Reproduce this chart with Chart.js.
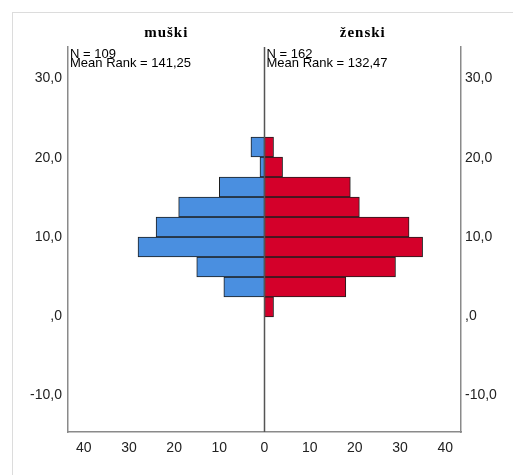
<!DOCTYPE html>
<html lang="hr">
  <head>
    <meta charset="UTF-8" />
    <title>muški / ženski</title>
    <script src="https://cdn.jsdelivr.net/npm/chart.js"></script>
    <style>
      html, body { margin: 0; padding: 0; background: #fff; overflow: hidden; }
      #wrap { position: relative; width: 513px; height: 475px; }
      #frame {
        position: absolute; left: 12px; top: 12px;
        width: 600px; height: 600px;
        border: 1px solid #dcdcdc;
      }
      #chart { position: absolute; left: 0; top: 0; }
    </style>
  </head>
  <body>
    <div id="wrap">
      <div id="frame"></div>
      <canvas id="chart" width="513" height="475"></canvas>
    </div>

    <script>
      // bin centres (y value), bottom to top
      const binCenters = [1.15, 3.67, 6.2, 8.72, 11.25, 13.77, 16.3, 18.82, 21.35];
      const maleCounts = [0, 9, 15, 28, 24, 19, 10, 1, 3];
      const femaleCounts = [2, 18, 29, 35, 32, 21, 19, 4, 2];

      const groupLabels = ["muški", "ženski"];
      const groupNotes = [
        ["N = 109", "Mean Rank = 141,25"],
        ["N = 162", "Mean Rank = 132,47"],
      ];

      const yTicks = [-10, 0, 10, 20, 30];
      const xTicks = [-40, -30, -20, -10, 0, 10, 20, 30, 40];

      const fmtY = (v) => (v === 0 ? ",0" : v.toFixed(1).replace(".", ","));

      const tickFont = { family: "'Liberation Sans', Arial, sans-serif", size: 14 };

      const pyramidText = {
        id: "pyramidText",
        afterDatasetsDraw(chart) {
          const { ctx, chartArea, scales } = chart;
          const x0 = scales.x.getPixelForValue(0);

          // centre line
          ctx.save();
          ctx.strokeStyle = "#555";
          ctx.lineWidth = 1.5;
          ctx.beginPath();
          ctx.moveTo(x0, chartArea.top);
          ctx.lineTo(x0, chartArea.bottom);
          ctx.stroke();

          // group headings
          ctx.fillStyle = "#000";
          ctx.font = "bold 15px 'Liberation Serif', 'Times New Roman', serif";
          ctx.letterSpacing = "1px";
          ctx.textAlign = "center";
          ctx.textBaseline = "alphabetic";
          ctx.fillText(groupLabels[0], (chartArea.left + x0) / 2, 37);
          ctx.fillText(groupLabels[1], (x0 + chartArea.right) / 2, 37);

          // N / mean rank notes
          ctx.letterSpacing = "0px";
          ctx.textAlign = "left";
          ctx.font = "13px 'Liberation Sans', Arial, sans-serif";
          const starts = [chartArea.left + 2, x0 + 2];
          starts.forEach((sx, i) => {
            ctx.fillText(groupNotes[i][0], sx, 57.5);
            ctx.fillText(groupNotes[i][1], sx, 67);
          });
          ctx.restore();
        },
      };

      const yAxis = (position, width, padding) => ({
        type: "linear",
        position: position,
        stacked: true,
        offset: false,
        min: -14.65,
        max: 33.98,
        afterBuildTicks: (axis) => {
          axis.ticks = yTicks.map((v) => ({ value: v }));
        },
        afterFit: (axis) => {
          axis.width = width;
        },
        ticks: { callback: fmtY, color: "#222", font: tickFont, padding: padding },
        grid: { display: false, drawTicks: false, offset: false },
        border: { display: true, color: "#8a8a8a", width: 1.5 },
      });

      new Chart(document.getElementById("chart"), {
        type: "bar",
        data: {
          datasets: [
            {
              label: groupLabels[0],
              data: binCenters.map((y, i) => ({ x: maleCounts[i] ? -maleCounts[i] : null, y })),
              backgroundColor: "#4a8fe0",
              borderColor: "#1e1e1e",
              borderWidth: 1,
              borderSkipped: false,
              categoryPercentage: 1,
              barPercentage: 1,
            },
            {
              label: groupLabels[1],
              data: binCenters.map((y, i) => ({ x: femaleCounts[i] || null, y })),
              backgroundColor: "#d4002a",
              borderColor: "#1e1e1e",
              borderWidth: 1,
              borderSkipped: false,
              categoryPercentage: 1,
              barPercentage: 1,
            },
          ],
        },
        options: {
          indexAxis: "y",
          responsive: false,
          animation: false,
          layout: { padding: { top: 47, left: 0, right: 0, bottom: 0 } },
          plugins: {
            legend: { display: false },
            tooltip: { enabled: false },
            title: { display: false },
          },
          scales: {
            x: {
              type: "linear",
              stacked: true,
              offset: false,
              min: -43.5,
              max: 43.5,
              afterBuildTicks: (axis) => {
                axis.ticks = xTicks.map((v) => ({ value: v }));
              },
              afterFit: (axis) => {
                axis.height = 43;
              },
              ticks: {
                callback: (v) => String(Math.abs(v)),
                color: "#222",
                font: tickFont,
                padding: 8,
                maxRotation: 0,
              },
              grid: { display: false, drawTicks: false },
              border: { display: true, color: "#8a8a8a", width: 1.5 },
            },
            y: yAxis("left", 68, 6),
            y2: yAxis("right", 52, 4),
          },
        },
        plugins: [pyramidText],
      });
    </script>
  </body>
</html>
